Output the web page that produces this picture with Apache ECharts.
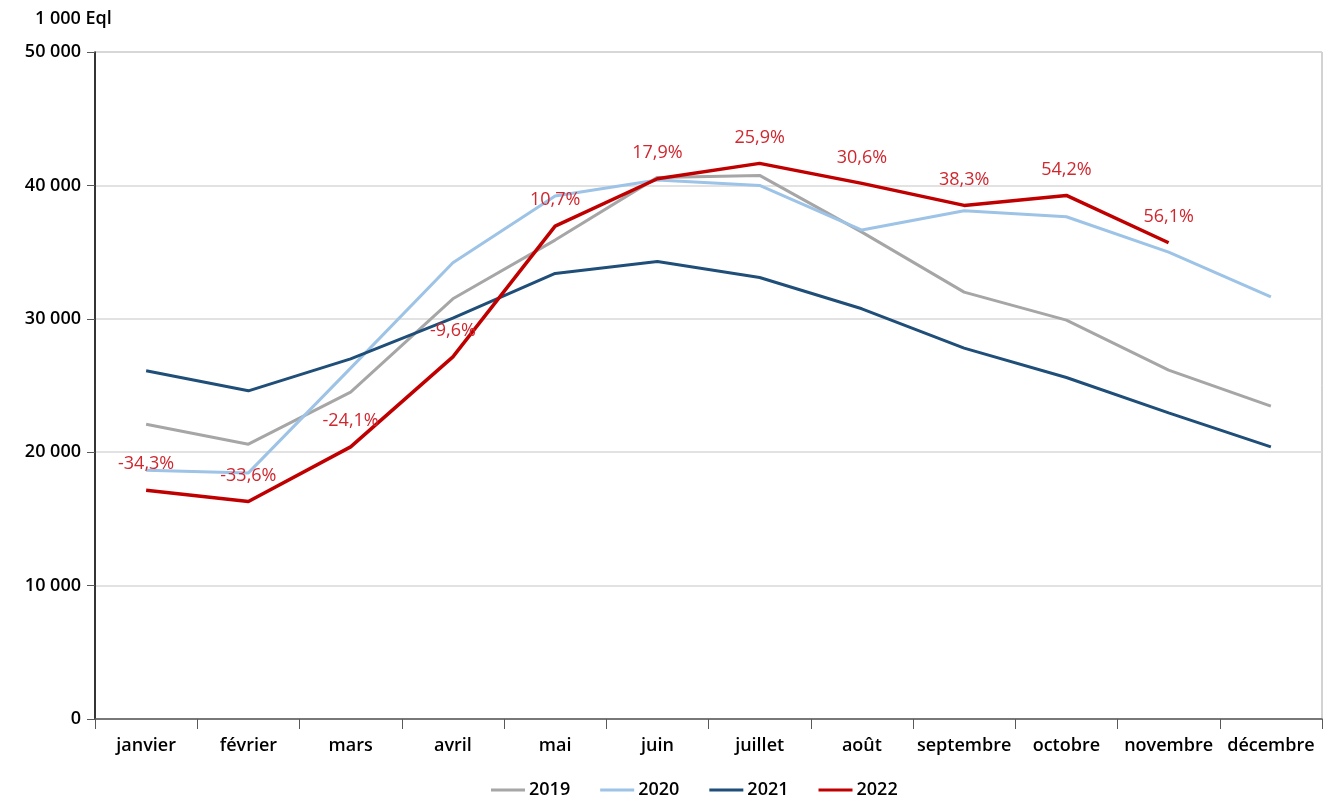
<!DOCTYPE html>
<html>
<head>
<meta charset="utf-8">
<script src="https://cdn.jsdelivr.net/npm/echarts@6/dist/echarts.min.js"></script>
<style>
  html, body { margin: 0; padding: 0; background: #fff; }
  #chart { width: 1325px; height: 798px; }
</style>
</head>
<body>
<div id="chart"></div>
<script>
// Monthly volumes (1 000 Eql), 2019–2022
const months = ['janvier', 'février', 'mars', 'avril', 'mai', 'juin', 'juillet', 'août', 'septembre', 'octobre', 'novembre', 'décembre'];
const v2019 = [22100, 20600, 24500, 31500, 35900, 40600, 40750, 36500, 32000, 29900, 26150, 23450];
const v2020 = [18650, 18450, 26300, 34200, 39200, 40400, 40000, 36650, 38100, 37650, 35000, 31650];
const v2021 = [26100, 24600, 27000, 30050, 33400, 34300, 33100, 30750, 27800, 25600, 22950, 20400];
const v2022 = [17150, 16300, 20400, 27150, 36950, 40500, 41650, 40150, 38500, 39250, 35700];
// Change of 2022 vs 2021, shown above each 2022 point
const change2022 = ['-34,3%', '-33,6%', '-24,1%', '-9,6%', '10,7%', '17,9%', '25,9%', '30,6%', '38,3%', '54,2%', '56,1%'];
const yTicks = [0, 10000, 20000, 30000, 40000, 50000];

const font = '"Open Sans", "Liberation Sans", sans-serif';
const chart = echarts.init(document.getElementById('chart'));

function lineSeries(name, data, color, extra) {
  return Object.assign({
    name: name,
    type: 'line',
    data: data,
    symbol: 'circle',
    symbolSize: 0,
    showSymbol: true,
    itemStyle: { color: color },
    lineStyle: { color: color, width: 3 },
    emphasis: { disabled: true },
    animation: false
  }, extra || {});
}

chart.setOption({
  animation: false,
  grid: {
    left: 95, right: 3, top: 52, bottom: 79,
    show: true, borderColor: '#a6a6a6', borderWidth: 1, backgroundColor: 'transparent'
  },
  graphic: [{
    type: 'text', left: 35, top: 10,
    style: { text: '1 000 Eql', font: '600 18px ' + font, fill: '#000' }
  }],
  legend: {
    bottom: -6, left: 486,
    itemWidth: 34, itemHeight: 3, itemGap: 30,
    icon: 'rect',
    textStyle: { fontFamily: font, fontSize: 18, fontWeight: 600, color: '#000', padding: [0, 0, 0, -1] },
    data: ['2019', '2020', '2021', '2022']
  },
  xAxis: {
    type: 'category',
    data: months,
    boundaryGap: true,
    axisLine: { lineStyle: { color: '#595959', width: 1.5 } },
    axisTick: { show: true, interval: 0, length: 10, lineStyle: { color: '#595959' } },
    axisLabel: { interval: 0, fontFamily: font, fontSize: 18, fontWeight: 600, color: '#000', margin: 18 },
    splitLine: { show: false }
  },
  yAxis: {
    type: 'value',
    min: 0, max: 50000, interval: 10000,
    axisLine: { show: true, lineStyle: { color: '#000', width: 1.5 } },
    axisTick: { show: true, length: 8, lineStyle: { color: '#595959' } },
    axisLabel: {
      fontFamily: font, fontSize: 18, fontWeight: 600, color: '#000', margin: 14,
      formatter: function (v) {
        return yTicks.indexOf(v) >= 0 ? String(v).replace(/\B(?=(\d{3})+(?!\d))/g, ' ') : '';
      }
    },
    splitLine: { show: true, lineStyle: { color: '#d9d9d9', width: 1.5 } }
  },
  series: [
    lineSeries('2019', v2019, '#a6a6a6'),
    lineSeries('2020', v2020, '#9dc3e6'),
    lineSeries('2021', v2021, '#1f4e79'),
    lineSeries('2022', v2022, '#c00000', {
      lineStyle: { color: '#c00000', width: 3.5 },
      label: {
        show: true,
        position: 'top',
        distance: 17,
        fontFamily: font,
        fontSize: 18,
        color: '#d0272f',
        formatter: function (p) { return change2022[p.dataIndex]; }
      }
    })
  ]
});
</script>
</body>
</html>
